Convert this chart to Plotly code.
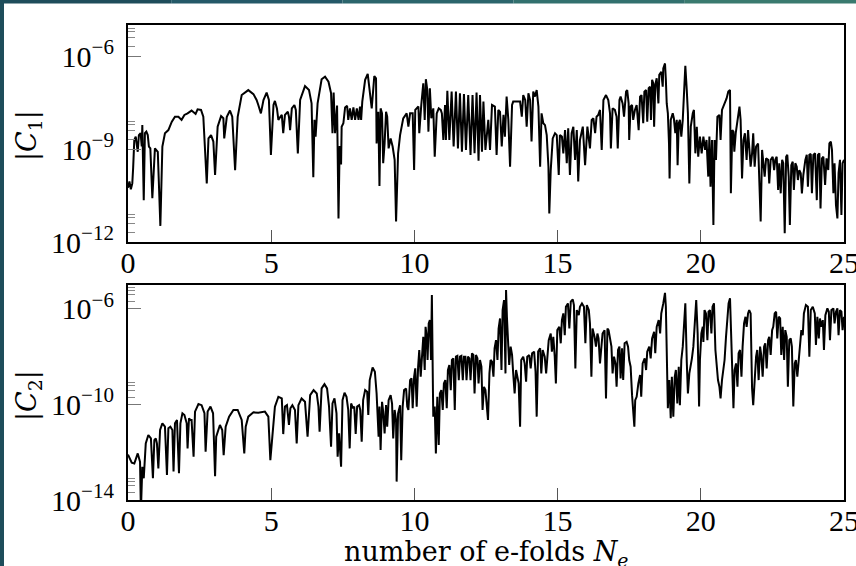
import numpy as np
import plotly.graph_objects as go

# ---------------- data ----------------
# top panel |C1| : N_e and log10|C1|
n1 = [0.00, 0.05, 0.10, 0.15, 0.18, 0.22, 0.27, 0.34, 0.38, 0.44, 0.48, 0.50, 0.55, 0.59, 0.64, 0.69, 0.73, 0.78, 0.85, 0.94,
      1.04, 1.13, 1.20, 1.29, 1.41, 1.53, 1.64, 1.76, 1.87, 1.97, 2.08, 2.22, 2.36, 2.43, 2.55, 2.63, 2.75, 2.81, 2.90, 2.98,
      3.04, 3.13, 3.25, 3.33, 3.36, 3.45, 3.56, 3.64, 3.74, 3.83, 3.97, 4.20, 4.38, 4.49, 4.55, 4.64, 4.73, 4.84, 4.92, 4.99,
      5.08, 5.13, 5.20, 5.25, 5.32, 5.37, 5.42, 5.48, 5.58, 5.62, 5.66, 5.72, 5.81, 5.86, 5.93, 6.01, 6.18, 6.32, 6.41, 6.47,
      6.51, 6.55, 6.62, 6.76, 6.88, 7.00, 7.09, 7.14, 7.18, 7.23, 7.30, 7.35, 7.39, 7.44, 7.46, 7.52, 7.58, 7.65, 7.69, 7.75,
      7.81, 7.87, 7.93, 7.99, 8.05, 8.10, 8.14, 8.18, 8.28, 8.37, 8.51, 8.60, 8.66, 8.68, 8.74, 8.78, 8.82, 8.87, 8.91, 8.96,
      9.01, 9.05, 9.10, 9.17, 9.24, 9.31, 9.36, 9.43, 9.50, 9.61, 9.73, 9.79, 9.85, 9.94, 9.99, 10.03, 10.14, 10.17, 10.24, 10.31,
      10.36, 10.40, 10.45, 10.49, 10.54, 10.59, 10.66, 10.71, 10.78, 10.85, 10.92, 10.96, 11.01, 11.07, 11.10, 11.15, 11.22, 11.30, 11.37, 11.45,
      11.52, 11.59, 11.66, 11.73, 11.80, 11.88, 11.96, 12.03, 12.10, 12.17, 12.24, 12.29, 12.36, 12.41, 12.48, 12.58, 12.64, 12.71, 12.81, 12.87,
      12.93, 12.99, 13.05, 13.11, 13.16, 13.22, 13.28, 13.34, 13.41, 13.45, 13.57, 13.69, 13.75, 13.80, 13.87, 13.92, 13.98, 14.04, 14.09, 14.15,
      14.21, 14.27, 14.33, 14.39, 14.44, 14.50, 14.56, 14.62, 14.68, 14.71, 14.76, 14.83, 14.91, 14.97, 15.04, 15.08, 15.15, 15.20, 15.26, 15.32,
      15.37, 15.43, 15.49, 15.55, 15.61, 15.67, 15.72, 15.78, 15.88, 15.96, 16.04, 16.13, 16.19, 16.25, 16.31, 16.36, 16.42, 16.48, 16.54, 16.60,
      16.69, 16.77, 16.83, 16.86, 16.92, 17.00, 17.06, 17.10, 17.16, 17.20, 17.27, 17.32, 17.39, 17.43, 17.48, 17.50, 17.55, 17.60, 17.64, 17.70,
      17.76, 17.83, 17.88, 17.93, 17.99, 18.03, 18.09, 18.13, 18.18, 18.23, 18.26, 18.30, 18.34, 18.37, 18.41, 18.46, 18.52, 18.55, 18.62, 18.67,
      18.69, 18.75, 18.78, 18.81, 18.85, 18.89, 18.91, 18.95, 19.02, 19.06, 19.11, 19.16, 19.19, 19.23, 19.27, 19.32, 19.37, 19.41, 19.46, 19.51,
      19.55, 19.60, 19.65, 19.72, 19.76, 19.81, 19.86, 19.91, 19.97, 20.03, 20.09, 20.15, 20.20, 20.26, 20.30, 20.34, 20.39, 20.44, 20.48, 20.53,
      20.58, 20.65, 20.69, 20.74, 20.81, 20.86, 20.90, 20.96, 21.02, 21.05, 21.10, 21.14, 21.17, 21.22, 21.28, 21.35, 21.39, 21.44, 21.49, 21.54,
      21.60, 21.65, 21.69, 21.74, 21.79, 21.83, 21.88, 21.93, 22.00, 22.04, 22.09, 22.14, 22.18, 22.23, 22.28, 22.35, 22.39, 22.44, 22.51, 22.56,
      22.60, 22.65, 22.70, 22.74, 22.79, 22.84, 22.88, 22.93, 22.98, 23.02, 23.07, 23.11, 23.16, 23.21, 23.25, 23.30, 23.35, 23.39, 23.44, 23.49,
      23.53, 23.58, 23.65, 23.70, 23.74, 23.79, 23.84, 23.88, 23.93, 23.99, 24.05, 24.09, 24.14, 24.18, 24.23, 24.28, 24.34, 24.39, 24.45, 24.49,
      24.54, 24.58, 24.63, 24.67, 24.72, 24.77, 24.81, 24.86, 24.91, 24.95, 25.00]
c1_log10 = [-10.25, -10.05, -10.30, -10.11, -9.60, -8.71, -8.60, -9.09, -8.55, -8.49, -8.92, -8.23, -10.65, -8.49, -8.44, -8.55, -8.92, -8.98, -10.59, -8.98,
            -9.09, -11.48, -8.92, -8.49, -8.39, -8.12, -7.96, -7.96, -8.06, -7.90, -7.85, -7.76, -7.87, -7.72, -7.74, -7.96, -10.11, -8.66, -8.55, -8.76,
            -9.84, -8.28, -7.94, -8.01, -8.66, -7.96, -7.76, -7.96, -9.68, -7.96, -7.26, -7.10, -7.23, -7.42, -7.58, -7.85, -7.42, -7.18, -7.42, -9.19,
            -7.58, -7.45, -7.69, -8.06, -7.96, -7.90, -8.49, -7.90, -7.80, -7.96, -8.39, -7.69, -7.58, -7.74, -9.14, -7.42, -6.97, -7.10, -7.53, -9.91,
            -8.06, -8.60, -7.53, -6.75, -6.67, -6.83, -7.20, -8.49, -7.18, -8.49, -7.60, -11.24, -8.90, -9.50, -8.28, -8.17, -7.66, -7.61, -8.06, -7.69,
            -8.06, -7.66, -8.06, -7.69, -8.06, -7.63, -8.06, -7.47, -6.77, -6.58, -7.69, -6.65, -6.72, -8.82, -7.80, -10.19, -7.69, -7.85, -9.46, -8.82,
            -7.80, -7.96, -8.98, -8.66, -8.92, -9.35, -11.34, -9.14, -8.55, -8.01, -7.85, -8.28, -7.85, -7.85, -9.68, -7.74, -7.63, -8.49, -7.58, -6.88,
            -8.06, -6.75, -7.10, -8.44, -7.04, -8.01, -7.69, -9.25, -7.85, -7.69, -7.74, -7.85, -8.71, -7.58, -8.71, -7.12, -8.71, -7.15, -8.92, -7.15,
            -8.98, -7.20, -9.09, -7.23, -9.03, -7.26, -9.19, -7.26, -9.14, -7.18, -9.38, -7.26, -9.09, -7.47, -9.03, -8.06, -9.03, -7.58, -7.63, -9.19,
            -7.74, -7.80, -8.92, -7.90, -8.60, -7.31, -8.06, -9.57, -7.58, -7.47, -7.47, -7.47, -7.96, -7.26, -7.42, -8.28, -7.20, -7.42, -8.76, -7.15,
            -7.31, -7.10, -7.63, -9.57, -7.85, -8.17, -8.23, -8.55, -9.57, -11.08, -9.68, -8.66, -8.49, -8.55, -9.84, -8.55, -8.60, -9.14, -8.39, -9.46,
            -8.33, -9.84, -8.49, -8.28, -9.35, -8.39, -10.05, -8.71, -8.28, -9.52, -8.28, -8.98, -8.06, -8.01, -8.49, -7.96, -7.90, -7.74, -9.03, -7.42,
            -7.26, -7.42, -7.85, -8.98, -7.69, -7.74, -7.96, -8.98, -7.42, -7.31, -7.53, -7.96, -7.15, -7.10, -7.53, -8.71, -7.63, -7.58, -8.06, -7.74,
            -7.58, -8.39, -7.31, -7.26, -8.17, -7.15, -7.10, -8.12, -7.04, -6.99, -8.06, -6.77, -6.88, -8.28, -6.93, -6.72, -7.53, -6.61, -6.51, -6.99,
            -6.40, -6.24, -6.77, -7.53, -7.85, -8.82, -9.95, -8.06, -7.85, -8.01, -8.49, -8.06, -9.52, -8.17, -8.06, -8.60, -8.06, -6.99, -6.32, -7.10,
            -7.85, -10.11, -8.28, -7.85, -7.74, -9.14, -8.28, -9.25, -8.60, -9.14, -8.60, -9.03, -8.71, -9.89, -8.60, -10.22, -8.71, -11.45, -8.71, -9.35,
            -7.96, -7.90, -8.71, -7.74, -7.58, -7.47, -7.37, -7.15, -7.10, -10.43, -8.39, -8.44, -9.09, -8.49, -8.06, -7.63, -8.06, -9.95, -8.71, -8.49,
            -9.35, -8.39, -8.92, -9.57, -9.14, -8.49, -9.57, -8.92, -8.82, -9.78, -11.34, -9.03, -9.35, -9.89, -9.30, -9.35, -10.11, -9.35, -9.25, -9.68,
            -9.35, -9.25, -10.32, -9.46, -10.43, -9.35, -9.46, -11.72, -9.25, -9.19, -9.89, -11.45, -9.52, -9.41, -10.32, -9.46, -9.57, -10.00, -9.68, -9.78,
            -10.43, -9.84, -9.35, -9.19, -10.22, -9.19, -9.16, -10.43, -9.19, -9.14, -10.65, -9.19, -9.14, -10.92, -9.30, -9.25, -10.16, -9.30, -9.68, -8.82,
            -8.76, -9.03, -10.43, -9.46, -10.81, -11.24, -9.78, -9.35, -11.13, -9.46, -9.35]

# bottom panel |C2| : N_e and log10|C2|
n2 = [0.00, 0.13, 0.22, 0.34, 0.42, 0.45, 0.50, 0.55, 0.62, 0.71, 0.80, 0.87, 0.92, 0.97, 1.01, 1.06, 1.12, 1.20, 1.29, 1.36,
      1.41, 1.48, 1.55, 1.59, 1.64, 1.71, 1.78, 1.83, 1.90, 1.97, 2.05, 2.08, 2.13, 2.18, 2.22, 2.29, 2.34, 2.46, 2.57, 2.67,
      2.71, 2.78, 2.88, 2.97, 3.04, 3.08, 3.21, 3.29, 3.34, 3.41, 3.53, 3.68, 3.83, 3.97, 4.06, 4.11, 4.20, 4.38, 4.55, 4.78,
      4.90, 4.97, 5.04, 5.13, 5.25, 5.37, 5.42, 5.48, 5.55, 5.62, 5.67, 5.74, 5.83, 5.89, 5.95, 6.06, 6.18, 6.27, 6.36, 6.48,
      6.59, 6.65, 6.69, 6.76, 6.86, 6.95, 7.02, 7.09, 7.14, 7.21, 7.28, 7.32, 7.37, 7.40, 7.44, 7.49, 7.56, 7.63, 7.69, 7.74,
      7.79, 7.86, 7.90, 7.95, 8.00, 8.07, 8.11, 8.16, 8.21, 8.28, 8.35, 8.39, 8.44, 8.54, 8.62, 8.68, 8.72, 8.75, 8.78, 8.82,
      8.87, 8.91, 8.96, 9.01, 9.05, 9.10, 9.17, 9.22, 9.26, 9.31, 9.36, 9.38, 9.43, 9.50, 9.54, 9.59, 9.64, 9.71, 9.75, 9.79,
      9.85, 9.90, 9.94, 9.99, 10.03, 10.08, 10.13, 10.17, 10.22, 10.27, 10.31, 10.36, 10.39, 10.43, 10.46, 10.50, 10.54, 10.58, 10.61, 10.65,
      10.66, 10.71, 10.75, 10.80, 10.85, 10.89, 10.94, 10.99, 11.03, 11.08, 11.13, 11.17, 11.22, 11.27, 11.31, 11.36, 11.41, 11.45, 11.50, 11.55,
      11.59, 11.64, 11.69, 11.73, 11.78, 11.82, 11.87, 11.92, 11.96, 12.01, 12.06, 12.10, 12.15, 12.20, 12.24, 12.29, 12.34, 12.38, 12.43, 12.48,
      12.52, 12.57, 12.62, 12.66, 12.71, 12.76, 12.80, 12.85, 12.90, 12.94, 12.99, 13.04, 13.08, 13.13, 13.18, 13.20, 13.23, 13.27, 13.31, 13.36,
      13.41, 13.45, 13.50, 13.55, 13.59, 13.64, 13.69, 13.73, 13.80, 13.85, 13.90, 13.94, 14.01, 14.06, 14.11, 14.18, 14.23, 14.27, 14.32, 14.39,
      14.43, 14.48, 14.55, 14.60, 14.64, 14.69, 14.76, 14.80, 14.85, 14.90, 14.94, 14.99, 15.06, 15.11, 15.15, 15.20, 15.25, 15.29, 15.36, 15.41,
      15.46, 15.53, 15.57, 15.62, 15.67, 15.74, 15.78, 15.85, 15.92, 15.97, 16.02, 16.09, 16.13, 16.18, 16.22, 16.29, 16.34, 16.39, 16.43, 16.48,
      16.57, 16.64, 16.69, 16.74, 16.78, 16.83, 16.88, 16.92, 16.97, 17.02, 17.06, 17.11, 17.16, 17.20, 17.25, 17.29, 17.34, 17.41, 17.46, 17.50,
      17.55, 17.60, 17.64, 17.68, 17.71, 17.76, 17.82, 17.88, 17.92, 17.97, 18.04, 18.09, 18.13, 18.20, 18.25, 18.30, 18.37, 18.41, 18.46, 18.53,
      18.58, 18.62, 18.69, 18.75, 18.78, 18.83, 18.85, 18.90, 18.95, 18.99, 19.04, 19.09, 19.13, 19.18, 19.23, 19.27, 19.32, 19.37, 19.41, 19.46,
      19.51, 19.55, 19.60, 19.65, 19.69, 19.74, 19.80, 19.84, 19.89, 19.94, 19.97, 20.02, 20.07, 20.09, 20.13, 20.18, 20.23, 20.27, 20.32, 20.37,
      20.41, 20.46, 20.51, 20.55, 20.60, 20.65, 20.69, 20.74, 20.79, 20.83, 20.88, 20.93, 20.97, 21.02, 21.07, 21.11, 21.14, 21.18, 21.23, 21.28,
      21.32, 21.37, 21.42, 21.46, 21.51, 21.56, 21.60, 21.65, 21.69, 21.74, 21.79, 21.83, 21.88, 21.93, 21.97, 22.02, 22.07, 22.11, 22.16, 22.21,
      22.25, 22.30, 22.35, 22.39, 22.44, 22.49, 22.53, 22.58, 22.63, 22.67, 22.72, 22.77, 22.81, 22.86, 22.91, 22.95, 23.00, 23.04, 23.09, 23.14,
      23.18, 23.23, 23.28, 23.32, 23.37, 23.42, 23.46, 23.51, 23.56, 23.60, 23.67, 23.74, 23.79, 23.84, 23.91, 23.98, 24.02, 24.07, 24.12, 24.16,
      24.21, 24.26, 24.30, 24.35, 24.42, 24.47, 24.51, 24.56, 24.63, 24.67, 24.72, 24.77, 24.81, 24.86, 24.91, 24.95, 25.00]
c2_log10 = [-12.10, -12.44, -12.47, -12.05, -12.40, -14.50, -12.61, -13.09, -11.63, -11.28, -11.42, -13.09, -11.49, -11.42, -11.63, -12.68, -11.07, -10.79, -10.93, -12.95,
            -11.00, -10.93, -11.07, -12.81, -10.79, -10.65, -12.88, -10.79, -10.37, -10.44, -10.79, -11.84, -10.58, -10.65, -10.65, -12.19, -10.30, -9.98, -10.03, -10.37,
            -11.98, -10.30, -10.09, -10.37, -13.00, -11.35, -10.86, -11.07, -12.12, -10.93, -10.51, -10.23, -10.23, -10.65, -12.05, -10.93, -10.51, -10.33, -10.35, -10.30,
            -10.51, -12.33, -11.35, -10.09, -9.68, -9.75, -11.24, -10.09, -10.03, -10.86, -10.16, -10.03, -10.23, -11.63, -10.03, -9.75, -9.89, -11.35, -9.61, -9.40,
            -9.54, -10.09, -11.14, -9.33, -9.15, -9.33, -10.09, -11.77, -9.96, -9.75, -10.37, -12.19, -11.21, -12.05, -12.61, -9.82, -9.51, -9.68, -10.23, -11.84,
            -9.96, -10.16, -10.09, -11.24, -10.09, -10.03, -10.23, -11.56, -9.82, -9.40, -9.47, -10.44, -8.98, -8.45, -8.63, -9.54, -10.65, -11.35, -10.09, -11.91,
            -9.89, -10.30, -11.21, -10.03, -10.93, -9.82, -9.61, -9.96, -11.42, -10.23, -10.65, -13.23, -10.37, -10.03, -12.33, -10.09, -9.40, -9.33, -10.09, -10.23,
            -8.98, -8.91, -10.16, -8.84, -8.49, -10.09, -8.42, -7.72, -8.84, -7.65, -7.17, -8.56, -6.75, -7.17, -8.14, -6.61, -6.47, -8.14, -5.42, -9.68,
            -10.51, -10.09, -12.05, -9.68, -11.70, -9.54, -9.40, -10.23, -9.12, -8.98, -10.16, -8.56, -8.35, -9.40, -8.14, -8.07, -10.23, -8.00, -7.97, -8.98,
            -8.00, -7.97, -8.98, -8.00, -8.00, -8.98, -8.00, -8.07, -8.98, -7.86, -7.93, -9.54, -7.93, -8.07, -9.12, -8.14, -8.42, -10.23, -9.26, -9.40,
            -10.16, -10.65, -8.70, -8.14, -8.21, -8.84, -7.65, -7.31, -8.14, -6.82, -6.40, -8.56, -6.05, -5.63, -8.70, -5.21, -6.33, -7.58, -8.35, -7.58,
            -7.93, -8.70, -9.54, -8.56, -8.84, -9.12, -10.93, -8.14, -8.00, -8.28, -9.05, -8.00, -7.93, -8.49, -7.86, -7.79, -8.63, -10.51, -7.79, -7.65,
            -8.70, -7.72, -8.00, -8.70, -8.07, -7.31, -7.03, -7.79, -7.17, -8.00, -9.12, -6.89, -6.75, -7.44, -6.47, -6.19, -7.10, -5.91, -5.77, -6.82,
            -5.70, -5.60, -5.84, -8.49, -6.05, -6.26, -5.91, -5.77, -5.91, -7.44, -5.84, -6.05, -6.61, -8.84, -6.82, -7.17, -7.58, -7.03, -7.24, -8.28,
            -7.03, -6.89, -9.75, -6.82, -6.89, -7.31, -7.58, -8.70, -8.00, -8.28, -9.26, -7.72, -7.58, -8.91, -7.65, -8.98, -7.44, -7.38, -7.58, -8.14,
            -8.42, -9.61, -10.37, -10.93, -9.82, -9.68, -9.12, -8.77, -9.68, -8.28, -8.07, -8.56, -7.79, -7.58, -8.07, -7.24, -6.96, -7.86, -6.75, -6.47,
            -7.03, -6.19, -5.77, -5.33, -5.91, -8.14, -10.16, -8.98, -10.58, -8.84, -10.51, -8.84, -8.56, -9.96, -8.42, -10.03, -8.14, -7.58, -6.75, -5.77,
            -8.21, -9.54, -8.70, -8.42, -8.07, -7.58, -6.47, -5.63, -7.03, -10.09, -8.14, -7.03, -6.75, -7.38, -6.05, -6.19, -7.31, -6.12, -6.05, -7.03,
            -5.91, -5.77, -7.72, -8.42, -8.98, -9.26, -9.75, -8.98, -8.56, -8.14, -7.17, -6.47, -5.77, -5.56, -7.58, -8.42, -10.16, -8.56, -8.28, -9.26,
            -7.86, -7.72, -8.84, -7.58, -6.61, -6.33, -6.75, -6.19, -6.05, -6.19, -9.33, -10.03, -8.70, -8.00, -7.72, -8.98, -7.58, -7.93, -8.84, -7.58,
            -7.44, -8.49, -7.31, -7.17, -7.93, -6.89, -6.75, -6.19, -6.12, -7.24, -6.33, -6.40, -7.93, -6.75, -8.14, -6.89, -7.17, -9.26, -7.31, -7.24,
            -7.58, -10.09, -8.28, -8.14, -8.84, -8.00, -7.58, -6.89, -7.10, -6.19, -5.84, -5.91, -8.00, -6.05, -5.91, -6.19, -7.51, -6.33, -7.24, -6.40,
            -6.75, -6.47, -7.72, -6.26, -5.98, -6.12, -7.31, -6.05, -5.98, -6.61, -6.12, -5.98, -7.10, -6.05, -6.12, -6.89, -6.33]

x_ticks = [0, 5, 10, 15, 20, 25]
y1_ticks = [1e-12, 1e-9, 1e-6]
y1_labels = ["10<sup>−12</sup>", "10<sup>−9</sup>", "10<sup>−6</sup>"]
y2_ticks = [1e-14, 1e-10, 1e-6]
y2_labels = ["10<sup>−14</sup>", "10<sup>−10</sup>", "10<sup>−6</sup>"]
minor_subs = [2, 4, 6, 8]

# ---------------- figure ----------------
W, H = 856, 566
ML, MR, MT, MB = 128, 12, 25, 66
PW, PH = W - ML - MR, H - MT - MB

def px_x(p):
    return (p - ML) / PW

def px_y(p):
    return (H - MB - p) / PH

fig = go.Figure()
fig.add_trace(go.Scatter(x=n1, y=10 ** np.array(c1_log10), mode="lines",
                         line=dict(color="black", width=2), xaxis="x", yaxis="y",
                         showlegend=False, hoverinfo="skip"))
fig.add_trace(go.Scatter(x=n2, y=10 ** np.array(c2_log10), mode="lines",
                         line=dict(color="black", width=2), xaxis="x2", yaxis="y2",
                         showlegend=False, hoverinfo="skip"))

tickfont = dict(family="Liberation Serif, DejaVu Serif, serif", size=30, color="black")

def xaxis_cfg(anchor):
    return dict(anchor=anchor, domain=[0, 1], range=[0, 25], tickvals=x_ticks,
                ticktext=[str(v) for v in x_ticks], ticks="inside", ticklen=12,
                tickwidth=1.2, tickcolor="#555", showline=True, linecolor="black",
                linewidth=2.2, mirror=True, showgrid=False, zeroline=False,
                tickfont=tickfont, ticklabelstandoff=-7, ticklabeloverflow="allow")

def yaxis_cfg(anchor, dom, rng, tv, tt):
    mvals = [s * v for v in tv for s in minor_subs]
    return dict(anchor=anchor, domain=dom, type="log", range=rng, tickvals=tv, ticktext=tt,
                ticks="inside", ticklen=13, tickwidth=1.2, tickcolor="#777",
                showline=True, linecolor="black", linewidth=2.2, mirror=True,
                showgrid=False, zeroline=False, tickfont=tickfont, ticklabelstandoff=6,
                ticklabeloverflow="allow",
                minor=dict(tickvals=mvals, ticks="inside", ticklen=7, tickwidth=1.2,
                           tickcolor="#888", showgrid=False))

fig.update_layout(
    width=W, height=H, margin=dict(l=ML, r=MR, t=MT, b=MB, autoexpand=False),
    paper_bgcolor="white", plot_bgcolor="white",
    xaxis=xaxis_cfg("y"),
    yaxis=yaxis_cfg("x", [px_y(242), 1.0], [-12, -5], y1_ticks, y1_labels),
    xaxis2=xaxis_cfg("y2"),
    yaxis2=yaxis_cfg("x2", [0.0, px_y(285)], [-14, -5], y2_ticks, y2_labels),
)

titlefont = dict(family="DejaVu Serif, serif", size=27, color="black")
fig.add_annotation(text="|<i>C</i><sub>1</sub>|", xref="paper", yref="paper",
                   x=px_x(28), y=px_y(136), textangle=-90, showarrow=False,
                   xanchor="center", yanchor="middle", font=titlefont)
fig.add_annotation(text="|<i>C</i><sub>2</sub>|", xref="paper", yref="paper",
                   x=px_x(28), y=px_y(396), textangle=-90, showarrow=False,
                   xanchor="center", yanchor="middle", font=titlefont)
fig.add_annotation(text="number of e-folds <i>N<sub>e</sub></i>", xref="paper", yref="paper",
                   x=px_x(486), y=px_y(553), showarrow=False,
                   xanchor="center", yanchor="middle", font=titlefont)

# teal slide border on the left and top
fig.add_shape(type="rect", xref="paper", yref="paper", x0=px_x(0), x1=px_x(4),
              y0=px_y(H), y1=px_y(0), line=dict(width=0), fillcolor="#1e4d5b", layer="above")
top_cols = ["#1e4d5b", "#245968", "#2b656c", "#32706e", "#3a7a6f"]
seg = W / len(top_cols)
for i, c in enumerate(top_cols):
    fig.add_shape(type="rect", xref="paper", yref="paper", x0=px_x(i * seg), x1=px_x((i + 1) * seg),
                  y0=px_y(3.5), y1=px_y(0), line=dict(width=0), fillcolor=c, layer="above")

fig.write_html("out.html", config={"displayModeBar": False},
               post_script="document.body.style.margin='0';document.body.style.padding='0';"
                           "document.documentElement.style.margin='0';")
